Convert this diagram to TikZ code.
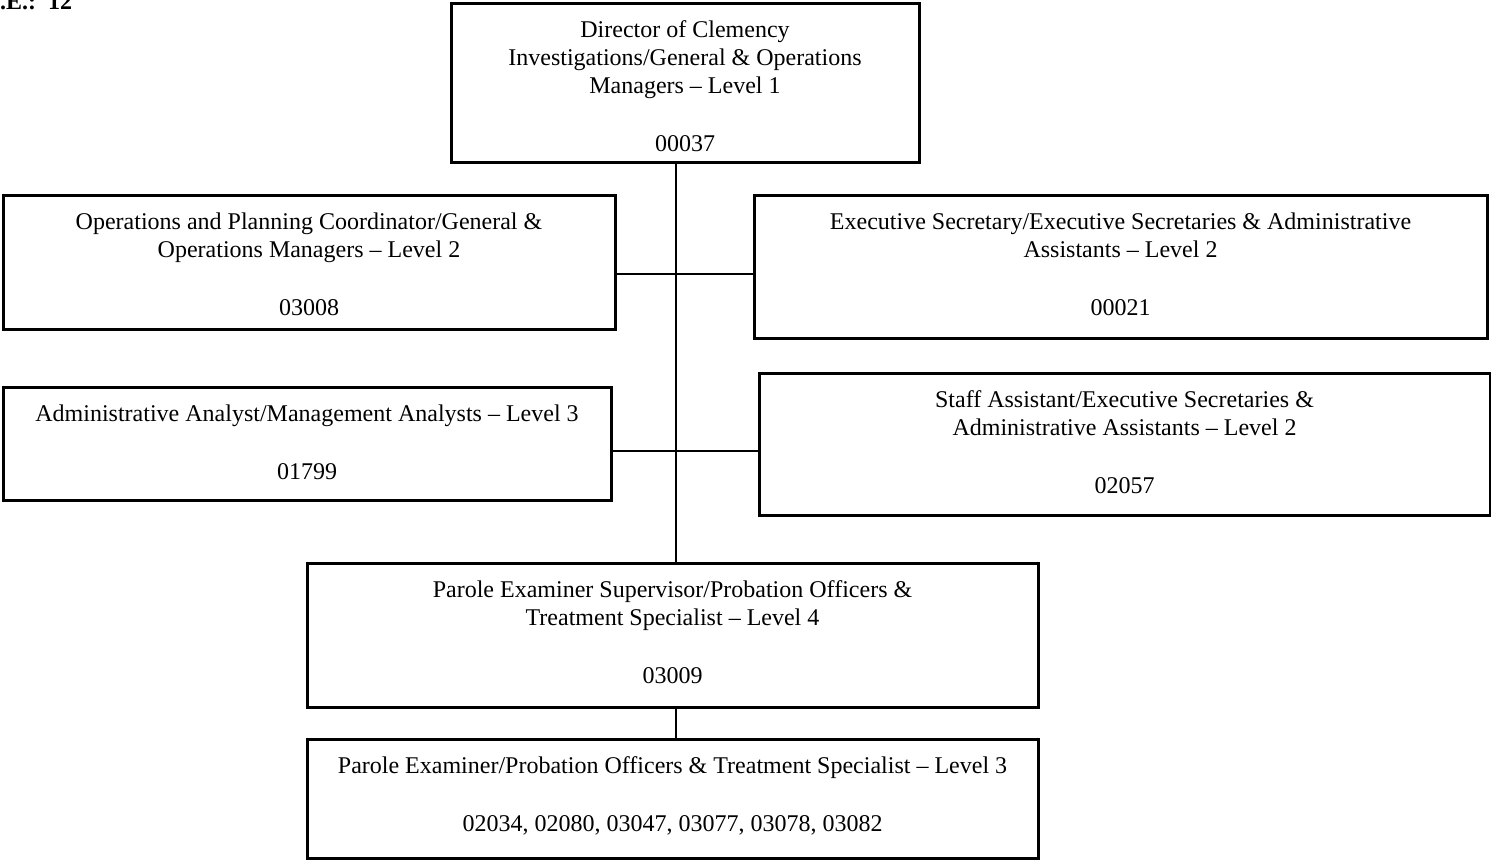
\documentclass[tikz,border=0pt]{standalone}
\usepackage{fontspec}
\setmainfont{Liberation Serif}
\begin{document}
\begin{tikzpicture}[x=1pt,y=-1pt,
  box/.style={draw,line width=3pt,inner sep=0pt},
  lbl/.style={anchor=north,align=center,inner sep=0pt,font=\fontsize{24}{28}\selectfont},
  link/.style={line width=2.2pt}]
\useasboundingbox (0,0) rectangle (1491,860);

% staff count, partly off the page edge
\node[anchor=base west,inner sep=0pt,font=\fontsize{24}{28}\selectfont\bfseries] (fte) at (0,9) {.E.:\ \ 12};

% boxes
\node[box,minimum width=468pt,minimum height=159pt] (top)   at (685,82.5) {};
\node[box,minimum width=612pt,minimum height=134pt] (ops)   at (309,262) {};
\node[box,minimum width=733pt,minimum height=143pt] (exec)  at (1120.5,266.5) {};
\node[box,minimum width=608pt,minimum height=113pt] (admin) at (307,443.5) {};
\node[box,minimum width=731pt,minimum height=142pt] (staff) at (1124.5,444) {};
\node[box,minimum width=731pt,minimum height=144pt] (sup)   at (672.5,635) {};
\node[box,minimum width=731pt,minimum height=119pt] (exam)  at (672.5,798.5) {};

% box texts: first line carries a strut so the top edge sits 0.7 baselineskip above its baseline
\tikzset{textdrop/.style={yshift=-16.4pt}}
\node[lbl] (topT) at ([textdrop]top.north) {\strut Director of Clemency\\Investigations/General \& Operations\\Managers -- Level 1\\[30pt]00037};
\node[lbl] (opsT) at ([textdrop]ops.north) {\strut Operations and Planning Coordinator/General \&\\Operations Managers -- Level 2\\[30pt]03008};
\node[lbl] (execT) at ([textdrop]exec.north) {\strut Executive Secretary/Executive Secretaries \& Administrative\\Assistants -- Level 2\\[30pt]00021};
\node[lbl] (adminT) at ([textdrop]admin.north) {\strut Administrative Analyst/Management Analysts -- Level 3\\[30pt]01799};
\node[lbl] (staffT) at ([textdrop]staff.north) {\strut Staff Assistant/Executive Secretaries \&\\Administrative Assistants -- Level 2\\[30pt]02057};
\node[lbl] (supT) at ([textdrop]sup.north) {\strut Parole Examiner Supervisor/Probation Officers \&\\Treatment Specialist -- Level 4\\[30pt]03009};
\node[lbl] (examT) at ([textdrop]exam.north) {\strut Parole Examiner/Probation Officers \& Treatment Specialist -- Level 3\\[30pt]02034, 02080, 03047, 03077, 03078, 03082};

% connectors
\coordinate (trunk) at (676,0);
\coordinate (row1) at (0,274);
\coordinate (row2) at (0,451);
\draw[link] (top.south -| trunk) -- (sup.north -| trunk);
\draw[link] (ops.east |- row1) -- (exec.west |- row1);
\draw[link] (admin.east |- row2) -- (staff.west |- row2);
\draw[link] (sup.south -| trunk) -- (exam.north -| trunk);
\end{tikzpicture}
\end{document}
